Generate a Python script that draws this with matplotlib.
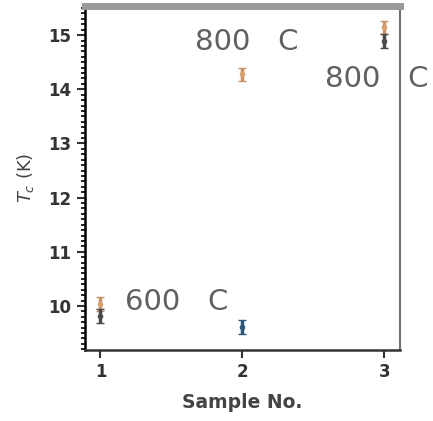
import matplotlib
matplotlib.use("Agg")
import matplotlib.pyplot as plt
from matplotlib.ticker import MultipleLocator

# Critical temperature per sample, two series
samples = [1, 2, 3]
tc_a = [10.04, 14.28, 15.15]      # orange series
tc_a_err = [0.13, 0.12, 0.12]
tc_b_samples = [1, 3]
tc_b = [9.82, 14.89]              # dark series
tc_b_err = [0.13, 0.13]
tc_c_samples = [2]
tc_c = [9.61]                     # blue series
tc_c_err = [0.13]

anneal_labels = ["600   C", "800   C", "800   C"]
label_pos_x = [1.17, 1.665, 2.58]
label_pos_y = [10.07, 14.87, 14.19]

fig = plt.figure(figsize=(4.33, 4.21), dpi=100)
ax = fig.add_axes([0.196, 0.169, 0.728, 0.817])

ax.errorbar(samples, tc_a, yerr=tc_a_err, fmt="o", ms=3, color="#d9a070",
            ecolor="#c8926a", capsize=3, elinewidth=2.5)
ax.errorbar(tc_b_samples, tc_b, yerr=tc_b_err, fmt="o", ms=3, color="#4a4a4a",
            ecolor="#4a4a4a", capsize=3, elinewidth=2.5)
ax.errorbar(tc_c_samples, tc_c, yerr=tc_c_err, fmt="o", ms=3, color="#2f5878",
            ecolor="#2f5878", capsize=3, elinewidth=2.5)

for lx, ly, t in zip(label_pos_x, label_pos_y, anneal_labels):
    ax.text(lx, ly, t, fontsize=21, color="#606060", va="center", ha="left",
            clip_on=False)

ax.set_xlim(0.89, 3.11)
ax.set_ylim(9.19, 15.54)
ax.set_xticks([1, 2, 3])
ax.yaxis.set_major_locator(MultipleLocator(1))
ax.yaxis.set_minor_locator(MultipleLocator(0.1))
ax.tick_params(axis="both", labelsize=12, width=1.5, length=6, colors="#333333")
ax.tick_params(axis="y", which="minor", length=3, width=1.2)
for lbl in ax.get_xticklabels() + ax.get_yticklabels():
    lbl.set_fontweight("bold")

ax.spines["top"].set_color("#9a9a9a")
ax.spines["top"].set_linewidth(5)
ax.spines["right"].set_color("#707070")
ax.spines["right"].set_linewidth(1.5)
ax.spines["left"].set_linewidth(1.8)
ax.spines["bottom"].set_linewidth(1.8)
ax.spines["bottom"].set_color("#333333")

ax.set_xlabel("Sample No.", fontsize=13.5, fontweight="bold", color="#444444")
ax.xaxis.set_label_coords(0.5, -0.125)
ax.set_ylabel("$T_c$ (K)", fontsize=13, color="#444444")
ax.yaxis.set_label_coords(-0.155, 0.5)

fig.savefig("out.png", dpi=100)
